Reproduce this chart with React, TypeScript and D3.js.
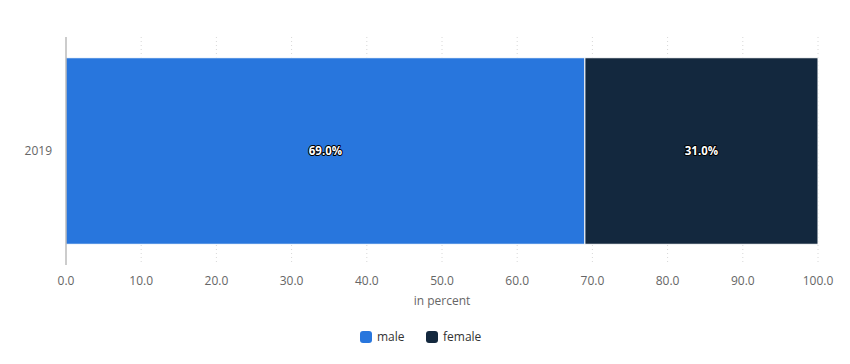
import React from "react";
import * as d3 from "d3";

const years = ["2019"];
const seriesNames = ["male", "female"];
const maleValues = [69.0];
const femaleValues = [31.0];
const colors = ["#2876dd", "#13283e"];
const xTicks = [0, 10, 20, 30, 40, 50, 60, 70, 80, 90, 100];

const W = 850;
const H = 364;
const margin = { top: 37, right: 32, bottom: 99, left: 66 };

const App = () => {
  const innerW = W - margin.left - margin.right;
  const innerH = H - margin.top - margin.bottom;

  const x = d3.scaleLinear().domain([0, 100]).range([0, innerW]);
  const y = d3.scaleBand().domain(years).range([0, innerH]).padding(0.1);

  const rows = years.map((yr, i) => {
    const vals = [maleValues[i], femaleValues[i]];
    let acc = 0;
    return vals.map((v, j) => {
      const seg = { year: yr, name: seriesNames[j], x0: acc, x1: acc + v, v, color: colors[j] };
      acc += v;
      return seg;
    });
  });

  const font = "'Open Sans', sans-serif";

  return (
    <svg width={W} height={H} style={{ position: "absolute", left: 0, top: 0 }}>
      <g transform={`translate(${margin.left},${margin.top})`}>
        {/* grid */}
        {xTicks.slice(1).map((t) => (
          <line key={t} x1={x(t)} x2={x(t)} y1={0} y2={innerH} stroke="#d8d8d8" strokeDasharray="1,3" />
        ))}
        {/* bars */}
        {rows.map((segs) =>
          segs.map((s) => (
            <rect
              key={s.year + s.name}
              x={x(s.x0)}
              y={y(s.year)}
              width={x(s.x1) - x(s.x0)}
              height={y.bandwidth()}
              fill={s.color}
              stroke="#fff"
              strokeWidth={1}
            />
          ))
        )}
        {rows.map((segs) =>
          segs.map((s) => (
            <text
              key={"l" + s.year + s.name}
              x={(x(s.x0) + x(s.x1)) / 2}
              y={(y(s.year) as number) + y.bandwidth() / 2}
              dy="0.35em"
              textAnchor="middle"
              fontFamily={font}
              fontSize={11.5}
              fontWeight="bold"
              fill="#fff"
              stroke="#000"
              strokeWidth={2}
              paintOrder="stroke"
              strokeLinejoin="round"
            >
              {s.v.toFixed(1)}%
            </text>
          ))
        )}
        {/* y axis */}
        <line x1={0} x2={0} y1={0} y2={innerH} stroke="#999" />
        {years.map((yr) => (
          <text
            key={yr}
            x={-14}
            y={(y(yr) as number) + y.bandwidth() / 2}
            dy="0.35em"
            textAnchor="end"
            fontFamily={font}
            fontSize={12}
            fill="#666"
          >
            {yr}
          </text>
        ))}
        {/* x axis labels */}
        {xTicks.map((t) => (
          <text key={t} x={x(t)} y={innerH + 20} textAnchor="middle" fontFamily={font} fontSize={12} fill="#666">
            {t.toFixed(1)}
          </text>
        ))}
        <text x={x(50)} y={innerH + 40} textAnchor="middle" fontFamily={font} fontSize={12} fill="#666">
          in percent
        </text>
      </g>
      {/* legend */}
      <g transform="translate(360,337)">
        {seriesNames.map((n, i) => (
          <g key={n} transform={`translate(${i * 66},0)`}>
            <rect x={0} y={-6} width={12} height={12} rx={3} fill={colors[i]} />
            <text x={17} y={0} dy="0.35em" fontFamily={font} fontSize={12} fill="#333">
              {n}
            </text>
          </g>
        ))}
      </g>
    </svg>
  );
};

export default App;
